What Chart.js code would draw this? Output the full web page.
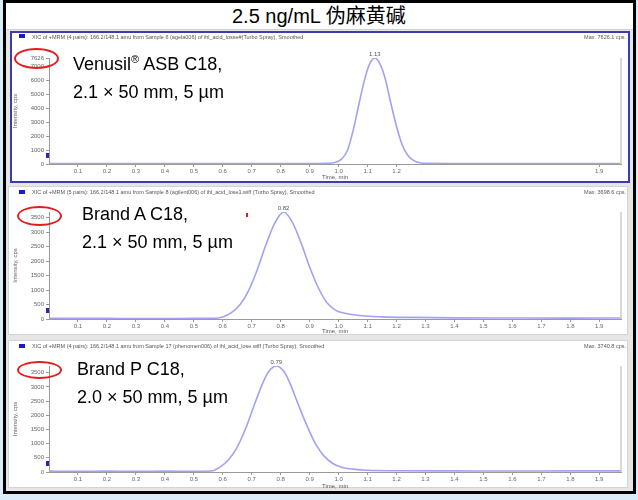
<!DOCTYPE html>
<html>
<head>
<meta charset="utf-8">
<script src="https://cdn.jsdelivr.net/npm/chart.js@4.4.1/dist/chart.umd.min.js"></script>
<style>
  body { margin:0; width:638px; height:500px; background:#d9ecfa; position:relative; overflow:hidden;
         font-family:"Liberation Sans", Arial, "Noto Sans CJK SC", sans-serif; }
  .abs { position:absolute; }
  .frame { left:3px; top:0; width:633px; height:494px; box-sizing:border-box; border:3px solid #000; background:#e6e6e6; }
  .titlebar { left:6px; top:3px; width:627px; height:26px; background:#fff; border-bottom:1px solid #cfcfcf; }
  .title { left:232px; top:0px; font-size:20px; color:#000; white-space:nowrap; }
  .panel { background:#fff; box-sizing:border-box; }
  .p1 { left:10px; top:31px; width:620px; height:152px; border:2px solid #3c3cb0; }
  .p2 { left:8px; top:186px; width:620px; height:149px; border:1px solid #d4d4d4; }
  .p3 { left:8px; top:340px; width:620px; height:148px; border:1px solid #d4d4d4; }
  canvas { position:absolute; }
  .hdr { font-size:5.5px; color:#555; white-space:nowrap; }
  .sq { width:6px; height:4px; background:#1a1ad0; }
  .note { font-size:18px; color:#000; white-space:nowrap; line-height:28px; }
  .note sup { font-size:11px; line-height:0; }
  .ring { border:2px solid #e02020; border-radius:50%; box-sizing:border-box; }
</style>
</head>
<body>
<div class="abs frame"></div>
<div class="abs titlebar"></div>
<div class="abs title">2.5 ng/mL 伪麻黄碱</div>

<div class="abs panel p1"></div>
<div class="abs panel p2"></div>
<div class="abs panel p3"></div>

<canvas id="c1" width="616" height="148" style="left:12px;top:33px"></canvas>
<canvas id="c2" width="616" height="148" style="left:12px;top:187px"></canvas>
<canvas id="c3" width="616" height="150" style="left:12px;top:340px"></canvas>

<!-- panel headers -->
<div class="abs sq" style="left:19px;top:34px"></div>
<div class="abs hdr" style="left:32px;top:34px">XIC of +MRM (4 pairs): 166.2/148.1 amu from Sample 6 (agela006) of ihl_acid_losse#(Turbo Spray), Smoothed</div>
<div class="abs hdr" style="right:12px;top:34px">Max. 7626.1 cps.</div>
<div class="abs sq" style="left:19px;top:190px"></div>
<div class="abs hdr" style="left:32px;top:189px">XIC of +MRM (5 pairs): 166.2/148.1 amu from Sample 8 (agilent006) of ihl_acid_lose1.wiff (Turbo Spray), Smoothed</div>
<div class="abs hdr" style="right:12px;top:189px">Max. 3698.6 cps.</div>
<div class="abs sq" style="left:19px;top:344px"></div>
<div class="abs hdr" style="left:32px;top:343px">XIC of +MRM (4 pairs): 166.2/148.1 amu from Sample 17 (phenomen006) of ihl_acid_lose.wiff (Turbo Spray), Smoothed</div>
<div class="abs hdr" style="right:12px;top:343px">Max. 3740.8 cps.</div>

<!-- column notes -->
<div class="abs note" style="left:73px;top:50px">Venusil<sup>®</sup> ASB C18,<br>2.1 × 50 mm, 5 µm</div>
<div class="abs note" style="left:82px;top:200px">Brand A C18,<br>2.1 × 50 mm, 5 µm</div>
<div class="abs note" style="left:77px;top:355px">Brand P C18,<br>2.0 × 50 mm, 5 µm</div>

<div class="abs ring" style="left:14px;top:48px;width:45px;height:21px"></div>
<div class="abs ring" style="left:17px;top:206px;width:45px;height:20px"></div>
<div class="abs ring" style="left:17px;top:361px;width:45px;height:18px"></div>
<div class="abs" style="left:246px;top:213px;width:2px;height:4px;background:#e02020"></div>

<!-- blanked strip on first trace -->
<div class="abs" style="left:422px;top:165px;width:171px;height:16px;background:#fff"></div>

<script>
// ---------- data ----------
const xTicks = [0.1, 0.2, 0.3, 0.4, 0.5, 0.6, 0.7, 0.8, 0.9, 1.0, 1.1, 1.2, 1.3, 1.4, 1.5, 1.6, 1.7, 1.8, 1.9];
const xMax = 1.975;

// Venusil ASB C18
const times1 = [0, 0.08, 0.17, 0.3, 0.45, 0.6, 0.75, 0.9, 0.96, 0.99, 1.01, 1.03, 1.05, 1.07, 1.09, 1.105,
  1.125, 1.145, 1.16, 1.18, 1.2, 1.22, 1.24, 1.26, 1.28, 1.3, 1.4, 1.6, 1.8, 1.975];
const cps1 = [40, 30, 40, 25, 30, 40, 40, 40, 50, 120, 350, 950, 2400, 4300, 6100, 7100,
  7626, 7100, 6200, 4400, 2700, 1350, 600, 240, 90, 50, 40, 35, 40, 40];
const yTicks1 = [0, 1000, 2000, 3000, 4000, 5000, 6000, 7000, 7626];
const yMax1 = 7626;

// Brand A C18
const times2 = [0, 0.1, 0.2, 0.3, 0.4, 0.5, 0.57, 0.6, 0.63, 0.66, 0.69, 0.72, 0.75, 0.78, 0.81, 0.84,
  0.87, 0.9, 0.93, 0.96, 0.99, 1.03, 1.08, 1.15, 1.25, 1.4, 1.6, 1.8, 1.975];
const cps2 = [25, 20, 20, 15, 15, 20, 25, 70, 220, 500, 1000, 1730, 2590, 3320, 3698, 3350,
  2640, 1800, 1080, 560, 300, 180, 110, 75, 55, 40, 35, 30, 35];
const yTicks2 = [0, 500, 1000, 1500, 2000, 2500, 3000, 3500];
const yMax2 = 3698;

// Brand P C18
const times3 = [0, 0.1, 0.2, 0.3, 0.4, 0.5, 0.56, 0.59, 0.62, 0.65, 0.68, 0.71, 0.74, 0.76, 0.785, 0.81,
  0.83, 0.86, 0.89, 0.92, 0.95, 0.98, 1.01, 1.05, 1.1, 1.2, 1.4, 1.6, 1.8, 1.975];
const cps3 = [30, 25, 30, 25, 30, 25, 35, 170, 430, 880, 1560, 2400, 3180, 3560, 3740, 3560,
  3180, 2400, 1650, 1000, 560, 300, 170, 100, 60, 45, 40, 35, 40, 40];
const yTicks3 = [0, 500, 1000, 1500, 2000, 2500, 3000, 3500];
const yMax3 = 3740;

const peakLabels = ['1.13', '0.82', '0.79'];

// ---------- extras drawn on each trace ----------
const decor = {
  id: 'decor',
  afterDatasetsDraw(chart, args, opts) {
    const { ctx, chartArea: a, scales } = chart;
    ctx.save();
    // right frame line
    ctx.strokeStyle = '#cbcbcb';
    ctx.lineWidth = 1.5;
    ctx.beginPath();
    ctx.moveTo(a.right, a.top);
    ctx.lineTo(a.right, a.bottom);
    ctx.stroke();
    // small marker on the y axis
    ctx.fillStyle = '#2424c0';
    ctx.fillRect(a.left - 3, a.bottom - 11, 3, 5);
    // apex label
    const pts = chart.data.datasets[0].data;
    let top = pts[0];
    pts.forEach(p => { if (p.y > top.y) top = p; });
    ctx.fillStyle = '#555';
    ctx.font = '6px "Liberation Sans", Arial';
    ctx.textAlign = 'center';
    ctx.textBaseline = 'bottom';
    ctx.fillText(opts.label, scales.x.getPixelForValue(top.x), scales.y.getPixelForValue(top.y) - 1);
    ctx.restore();
  }
};

function trace(id, times, cps, yMax, yTicks, padTop, xHeight, label) {
  new Chart(document.getElementById(id), {
    type: 'line',
    data: {
      datasets: [{
        data: times.map((t, i) => ({ x: t, y: cps[i] })),
        borderColor: '#a2a2f4',
        borderWidth: 1.6,
        pointRadius: 0,
        cubicInterpolationMode: 'monotone',
        fill: false
      }]
    },
    options: {
      responsive: false,
      animation: false,
      layout: { padding: { top: padTop, right: 7, left: 0, bottom: 0 } },
      plugins: {
        legend: { display: false },
        tooltip: { enabled: false },
        decor: { label: label }
      },
      scales: {
        x: {
          type: 'linear', min: 0, max: xMax,
          afterBuildTicks: s => { s.ticks = xTicks.map(v => ({ value: v })); },
          afterFit: s => { s.height = xHeight; },
          ticks: { font: { size: 6 }, color: '#666', padding: 1, maxRotation: 0, autoSkip: false,
                   callback: v => v.toFixed(1) },
          grid: { drawOnChartArea: false, tickLength: 3, color: '#9a9a9a' },
          border: { color: '#9a9a9a' },
          title: { display: true, text: 'Time, min', font: { size: 6 }, color: '#555', padding: 0 }
        },
        y: {
          min: 0, max: yMax,
          afterBuildTicks: s => { s.ticks = yTicks.map(v => ({ value: v })); },
          afterFit: s => { s.width = 37; },
          ticks: { font: { size: 6 }, color: '#666', padding: 2, autoSkip: false,
                   callback: v => String(v) },
          grid: { drawOnChartArea: false, tickLength: 3, color: '#9a9a9a' },
          border: { color: '#9a9a9a' },
          title: { display: true, text: 'Intensity, cps', font: { size: 6 }, color: '#666', padding: 0 }
        }
      }
    },
    plugins: [decor]
  });
}

trace('c1', times1, cps1, yMax1, yTicks1, 25, 17, peakLabels[0]);
trace('c2', times2, cps2, yMax2, yTicks2, 25, 16, peakLabels[1]);
trace('c3', times3, cps3, yMax3, yTicks3, 26, 18, peakLabels[2]);
</script>
</body>
</html>
